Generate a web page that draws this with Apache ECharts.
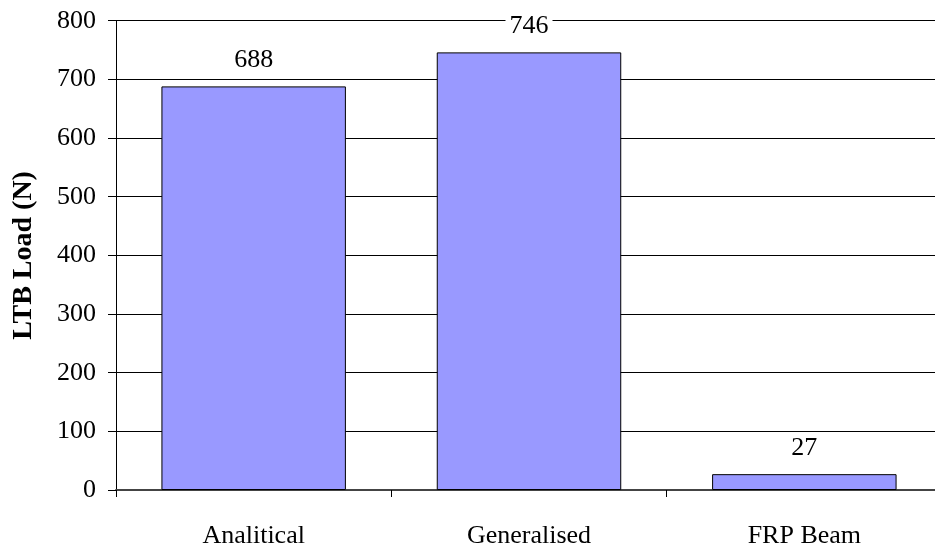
<!DOCTYPE html>
<html>
<head>
<meta charset="utf-8">
<script src="https://cdn.jsdelivr.net/npm/echarts@6/dist/echarts.min.js"></script>
<style>
  html, body { margin: 0; padding: 0; background: #fff; }
  #chart { width: 935px; height: 554px; }
</style>
</head>
<body>
<div id="chart"></div>
<script>
// Lateral-torsional buckling loads per method
const categories = ['Analitical', 'Generalised', 'FRP Beam'];
const ltbLoads = [688, 746, 27];
const yTicks = { min: 0, max: 800, interval: 100 };

const FONT = '"Liberation Serif", "Times New Roman", serif';

const chart = echarts.init(document.getElementById('chart'), null, { renderer: 'canvas' });

chart.setOption({
  animation: false,
  backgroundColor: '#ffffff',
  grid: {
    left: 116, top: 20.7, width: 826, height: 469.3,
    containLabel: false, outerBoundsMode: 'none'
  },
  xAxis: {
    type: 'category',
    data: categories,
    boundaryGap: true,
    axisLine: { show: true, lineStyle: { color: '#444', width: 2 } },
    axisTick: { show: true, inside: false, length: 7, alignWithLabel: false, lineStyle: { color: '#000', width: 1 } },
    axisLabel: { color: '#000', fontFamily: FONT, fontSize: 26, margin: 33 },
    splitLine: { show: false }
  },
  yAxis: {
    type: 'value',
    min: yTicks.min,
    max: yTicks.max,
    interval: yTicks.interval,
    name: 'LTB Load (N)',
    nameLocation: 'middle',
    nameGap: 78,
    nameTextStyle: { color: '#000', fontFamily: FONT, fontSize: 28, fontWeight: 'bold' },
    axisLine: { show: true, lineStyle: { color: '#000', width: 1 } },
    axisTick: { show: true, inside: false, length: 8, lineStyle: { color: '#000', width: 1 } },
    axisLabel: { color: '#000', fontFamily: FONT, fontSize: 26, margin: 20 },
    splitLine: { show: true, lineStyle: { color: '#000', width: 1 } }
  },
  series: [{
    type: 'bar',
    data: ltbLoads,
    barCategoryGap: '33%',
    itemStyle: { color: '#9999ff', borderColor: '#000', borderWidth: 1 },
    label: {
      show: true,
      position: 'top',
      distance: 13,
      color: '#000',
      fontFamily: FONT,
      fontSize: 26,
      backgroundColor: '#fff',
      padding: [0, 4]
    }
  }]
});
</script>
</body>
</html>
